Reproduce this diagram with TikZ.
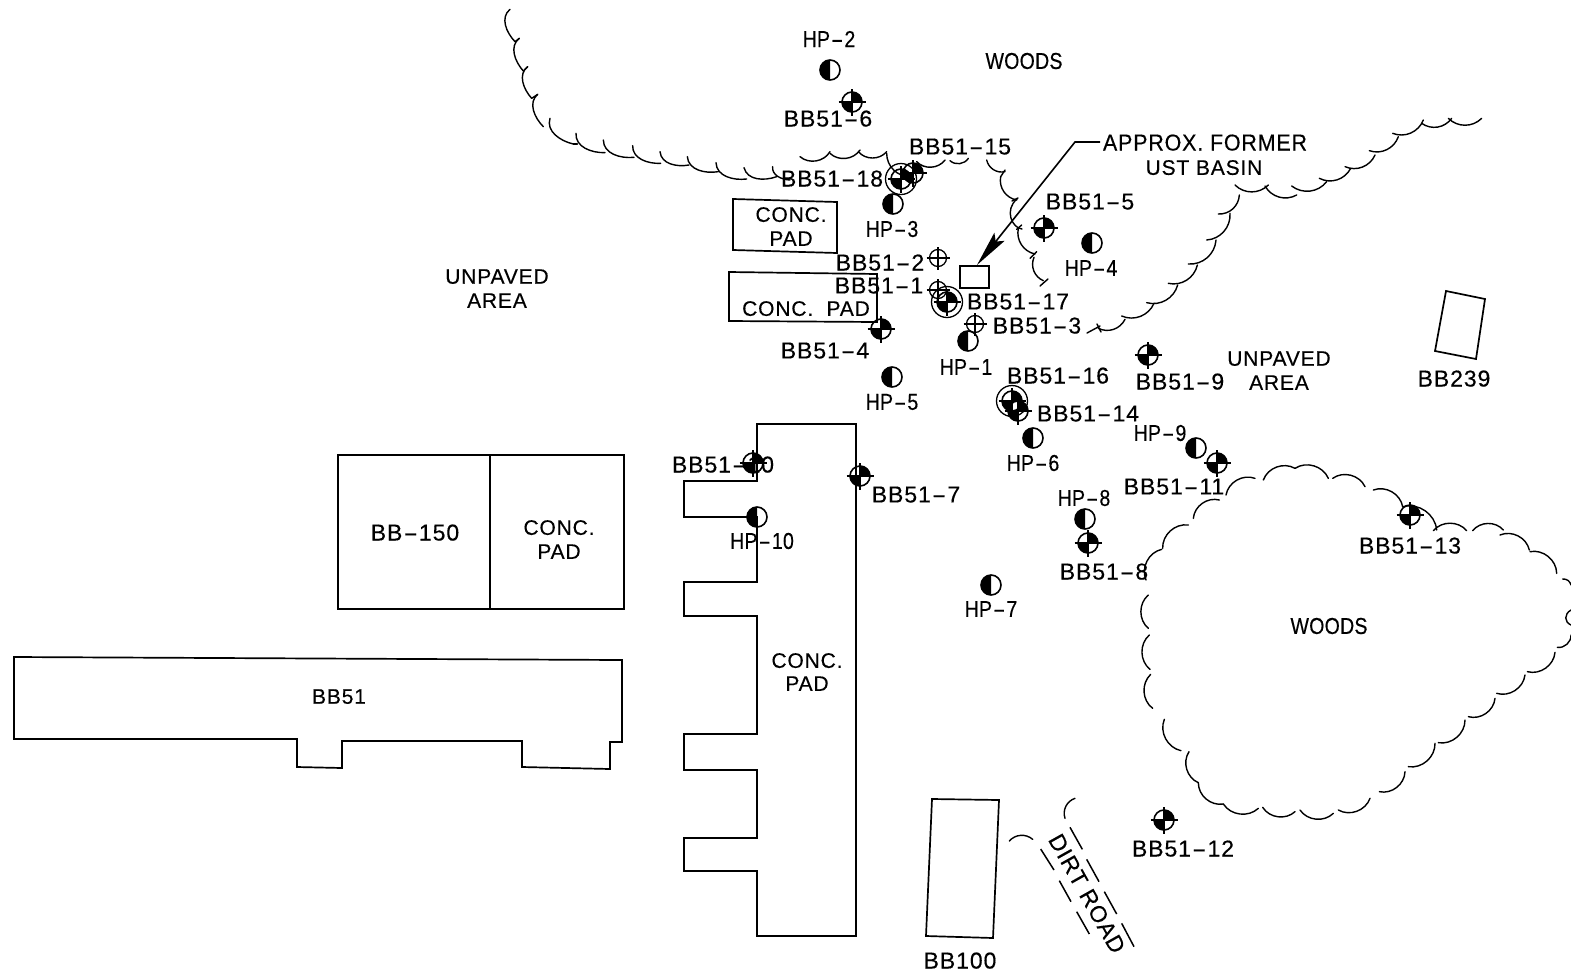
\documentclass[tikz,border=0pt]{standalone}
\usepackage{fontspec}
\usepackage{graphicx}
\usetikzlibrary{arrows.meta}
\setmainfont{Liberation Sans}
\newfontfamily\cad[LetterSpace=4,FakeBold=0.35]{Liberation Sans}
\newfontfamily\cadn[FakeStretch=0.85,LetterSpace=1,FakeBold=0.35]{Liberation Sans}
\newcommand{\hy}{\kern1pt\scalebox{1.9}[1]{-}\kern1pt}
\tikzset{
  ink/.style={line width=1.7pt,black,line join=miter},
  tree/.style={line width=1.4pt,black,line cap=round},
  lab/.style={font=\cad\fontsize{23}{25}\selectfont,inner sep=0pt,align=center,black,yshift=-0.6pt},
  sml/.style={font=\cad\fontsize{21}{25}\selectfont,inner sep=0pt,align=center,black,yshift=-0.6pt},
  nar/.style={font=\cadn\fontsize{23}{25}\selectfont,inner sep=0pt,align=center,black,yshift=0pt},
  pics/hpmark/.style={code={
    \draw[line width=1.6pt] (0,0) circle[radius=10pt];
    \fill (0,10pt) arc[start angle=90,end angle=270,radius=10pt] -- cycle;}},
  pics/bbmark/.style={code={
    \draw[line width=1.6pt] (0,0) circle[radius=10pt];
    \fill (0,0) -- (10pt,0) arc[start angle=0,end angle=90,radius=10pt] -- cycle;
    \fill (0,0) -- (-10pt,0) arc[start angle=180,end angle=270,radius=10pt] -- cycle;
    \draw[line width=1.3pt] (-13.5pt,0) -- (13.5pt,0) (0,-13.5pt) -- (0,13.5pt);}},
  pics/openmark/.style={code={
    \draw[line width=1.3pt] (0,0) circle[radius=8.5pt];
    \draw[line width=1.3pt] (-11.5pt,0) -- (11.5pt,0) (0,-11.5pt) -- (0,11.5pt);}},
  pics/ringmark/.style={code={
    \draw[line width=1.3pt] (0,0) circle[radius=15.5pt];
    \pic {bbmark};}},
}
% arcs given in coordinates of a 3x crop with origin (#1,#2)
\newcommand{\arcset}[4]{\foreach \a/\b/\c/\d in {#4}
  \draw[tree] ({#1+\a/3},{#2+\b/3}) to[#3] ({#1+\c/3},{#2+\d/3});}
\newcommand{\tickset}[3]{\foreach \a/\b/\c/\d in {#3}
  \draw[tree] ({#1+\a/3},{#2+\b/3}) -- ({#1+\c/3},{#2+\d/3});}
\begin{document}
\begin{tikzpicture}[x=1pt,y=-1pt]
\useasboundingbox (0,0) rectangle (1571,975);

% ---- buildings and pads
\draw[ink] (338,455) rectangle (624,609);
\draw[ink] (490,455) -- (490,609);
\draw[ink] (14,657) -- (622,660) -- (622,742) -- (610,742) -- (610,769) -- (522,767) -- (522,741)
  -- (342,741) -- (342,768) -- (297,767) -- (297,739) -- (14,739) -- cycle;
\draw[ink] (757,424) -- (856,424) -- (856,936) -- (757,936) -- (757,871) -- (684,871) -- (684,838)
  -- (757,838) -- (757,770) -- (684,770) -- (684,734) -- (757,734) -- (757,616) -- (684,616)
  -- (684,582) -- (757,582) -- (757,517) -- (684,517) -- (684,481) -- (757,481) -- cycle;
\draw[ink] (733,199) -- (837,202) -- (837,253) -- (733,250) -- cycle;
\draw[ink] (729,272) -- (877,274) -- (877,322) -- (729,321) -- cycle;
\draw[line width=1.2pt] (960,266) rectangle (989,288);
\draw[ink] (1446,291) -- (1485,299) -- (1476,359) -- (1435,351) -- cycle;
\draw[ink] (932,799) -- (999,800) -- (993,938) -- (926,936) -- cycle;

% ---- tree lines: top left
\arcset{490}{0}{relative,out=-60,in=-145}{60/28/75/125, 88/115/100/213, 113/200/125/295, 143/283/160/380,
  180/355/250/432, 258/400/345/458, 340/420/432/472, 428/437/512/490, 510/455/597/495,
  592/470/685/515, 678/488/770/537, 762/503/860/530, 848/500/900/540}
\tickset{490}{0}{75/125/88/115, 100/213/113/200, 125/295/143/283, 250/432/262/432}
\arcset{720}{130}{bend right=50}{240/80/330/65, 330/70/420/60, 415/65/500/65, 590/95/675/90, 690/92/745/85}
\arcset{720}{130}{bend right=45}{500/70/570/140}
% ---- inner branch
\arcset{720}{130}{bend right=45}{800/90/855/125, 842/140/890/210, 895/295/945/372, 942/382/970/452}
\draw[tree] (1017,199) .. controls (1004,210) and (1012,228) .. (1022,229);
\draw[tree] (1012,201) -- (1018,198);
\tickset{720}{130}{842/140/855/120, 890/298/905/285, 930/385/950/365}
\draw[tree] (1040,286) -- (1048,279);
% ---- upper right
\draw[tree] (1087,333) -- (1100,326);
\draw[tree] (1097,324) -- (1101,332);
\arcset{1080}{100}{bend right=45}{55/685/135/658, 125/648/222/610, 200/608/293/555, 265/550/352/495,
  325/492/408/420, 380/420/450/340, 415/342/478/285, 465/255/565/255, 555/258/650/285,
  635/258/740/245, 718/235/812/205, 795/200/885/165, 868/152/955/110, 938/100/1030/60,
  1025/70/1115/55, 1105/55/1205/55}
% ---- woods loop
\arcset{980}{350}{bend left=50}{498/690/545/598, 548/595/625/525, 640/505/718/450, 738/435/825/385,
  850/390/945/355, 945/355/1045/385, 1058/385/1155/410, 1180/420/1268/470, 1270/470/1370/540}
\arcset{1400}{490}{bend left=50}{100/122/200/122, 218/122/310/120, 300/135/388/180, 390/185/470/250}
\arcset{1400}{490}{bend left=40}{488/267/513/285}
\arcset{1400}{490}{bend left=50}{513/435/472/472, 465/487/382/545}
\draw[tree] (1571,610) .. controls (1564,614) and (1564,622) .. (1571,625);
\arcset{1120}{580}{bend left=50}{1215/285/1130/340, 1125/355/1045/410, 1035/420/955/488, 945/490/865/560,
  855/575/778/635, 750/655/655/690, 640/700/540/690, 525/695/428/682, 415/685/310/672,
  310/672/235/608, 235/608/207/515, 183/512/133/418,
  98/385/92/283, 90/268/88/165, 85/145/85/45}
% ---- dirt road
\arcset{990}{780}{bend left=45}{58/183/128/178, 225/115/255/55}
\foreach \a/\b/\c/\d in {240/142/277/208, 290/238/327/305, 343/335/380/402, 395/430/432/500,
   152/207/192/270, 208/302/243/365, 260/395/298/462}
  \draw[line width=1.5pt] ({990+\a/3},{780+\b/3}) -- ({990+\c/3},{780+\d/3});

% ---- labels
\node[nar] (t1) at (829,39) {HP\hy2};
\node[nar] (t2) at (1024,61) {WOODS};
\node[lab] (t3) at (828,118) {BB51\hy6};
\node[lab] (t4) at (960,146) {BB51\hy15};
\node[lab] (t5) at (832,178) {BB51\hy18};
\node[lab,xscale=0.93] (t6) at (1205,142) {APPROX. FORMER};
\node[sml] (t7) at (1204,167) {UST BASIN};
\node[nar] (t8) at (892,229) {HP\hy3};
\node[sml] (t9) at (791,214) {CONC.};
\node[sml] (t10) at (791,238) {PAD};
\node[lab] (t11) at (1090,201) {BB51\hy5};
\node[nar] (t12) at (1091,268) {HP\hy4};
\node[sml] (t13) at (497,276) {UNPAVED};
\node[sml] (t14) at (497,300) {AREA};
\node[lab] (t15) at (880,262) {BB51\hy2};
\node[lab] (t16) at (879,285) {BB51\hy1};
\node[lab] (t17) at (1018,301) {BB51\hy17};
\node[sml] (t18) at (806,308) {CONC.\ \ PAD};
\node[lab] (t19) at (1037,325) {BB51\hy3};
\node[lab] (t20) at (825,350) {BB51\hy4};
\node[nar] (t21) at (966,367) {HP\hy1};
\node[sml] (t22) at (1279,358) {UNPAVED};
\node[sml] (t23) at (1279,382) {AREA};
\node[lab] (t24) at (1454,378) {BB239};
\node[lab] (t25) at (1180,381) {BB51\hy9};
\node[lab] (t26) at (1058,375) {BB51\hy16};
\node[lab] (t27) at (1088,413) {BB51\hy14};
\node[nar] (t28) at (892,402) {HP\hy5};
\node[nar] (t29) at (1160,433) {HP\hy9};
\node[nar] (t30) at (1033,463) {HP\hy6};
\node[lab] (t31) at (1174,486) {BB51\hy11};
\node[lab] (t32) at (723,464) {BB51\hy10};
\node[lab] (t33) at (916,494) {BB51\hy7};
\node[nar] (t34) at (1084,498) {HP\hy8};
\node[lab] (t35) at (415,532) {BB\hy150};
\node[sml] (t36) at (559,527) {CONC.};
\node[sml] (t37) at (559,551) {PAD};
\node[nar] (t38) at (762,541) {HP\hy10};
\node[lab] (t39) at (1104,571) {BB51\hy8};
\node[lab] (t40) at (1410,545) {BB51\hy13};
\node[nar] (t41) at (991,609) {HP\hy7};
\node[nar] (t42) at (1329,626) {WOODS};
\node[sml] (t43) at (807,660) {CONC.};
\node[sml] (t44) at (807,683) {PAD};
\node[sml] (t45) at (339,696) {BB51};
\node[lab] (t46) at (1183,848) {BB51\hy12};
\node[lab] (t47) at (960,960) {BB100};
\node[lab,rotate=-60.7] (t48) at (1087,893) {DIRT ROAD};

% ---- leader with arrow to the UST basin
\coordinate (ldA) at (1100,142);
\coordinate (ldB) at (1075,142);
\coordinate (ldC) at (977,265);
\draw[line width=1.6pt,-{Stealth[length=36pt,width=13pt,inset=6pt]}] (ldA) -- (ldB) -- (ldC);

% ---- well symbols
\foreach \x/\y in {830/70, 893/204, 968/341, 892/377, 1092/243, 1033/438, 1196/448, 1085/519, 991/585, 757/517}
  \pic at (\x,\y) {hpmark};
\foreach \x/\y in {852/102, 913/173, 881/329, 1044/228, 1148/355, 1018/411, 1217/463, 1088/543, 1410/515, 1164/820, 753/463, 860/476}
  \pic at (\x,\y) {bbmark};
\foreach \x/\y in {938/258, 938/290, 975/324}
  \pic at (\x,\y) {openmark};
\foreach \x/\y in {901/179, 947/302, 1012/401}
  \pic at (\x,\y) {ringmark};
\end{tikzpicture}
\end{document}
